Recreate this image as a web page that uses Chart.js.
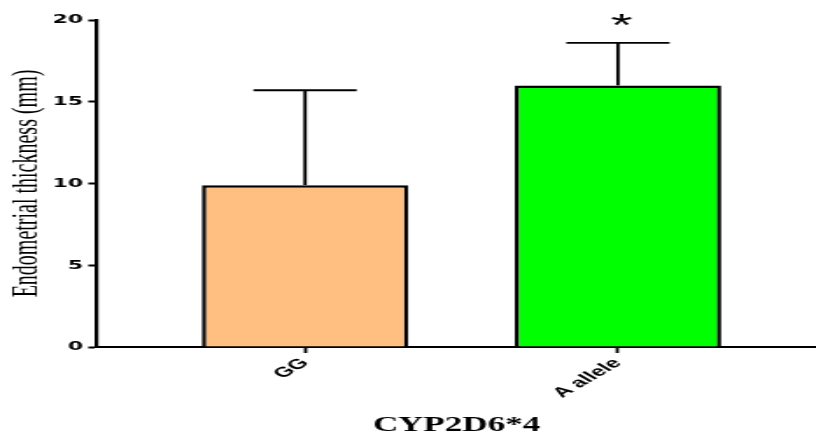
<!DOCTYPE html>
<html><head><meta charset="utf-8">
<script src="https://cdn.jsdelivr.net/npm/chart.js@4"></script>
<style>html,body{margin:0;padding:0;background:#fff;overflow:hidden}</style>
</head><body>
<canvas id="c" width="466" height="434" style="display:block;width:816px;height:434px"></canvas>
<script>
const categories = ['GG', 'A allele'];
const means = [9.9, 16.0];
const sds = [5.8, 2.6];
const significance = ['', '*'];
const barColors = ['#FFBF80', '#00FF00'];
const yTicks = [0, 5, 10, 15, 20];
const xTitle = 'CYP2D6*4';
const yTitle = 'Endometrial thickness (mm)';
const positions = categories.map((c, i) => i + 1);

const errorBars = {
  id: 'errorBars',
  afterDatasetsDraw(chart) {
    const ctx = chart.ctx;
    const ys = chart.scales.y;
    const meta = chart.getDatasetMeta(0);
    meta.data.forEach((bar, i) => {
      const p = bar.getProps(['x', 'y', 'width'], true);
      const top = ys.getPixelForValue(means[i] + sds[i]);
      const half = p.width / 4;
      ctx.save();
      ctx.strokeStyle = '#000';
      ctx.lineWidth = 1.9;
      ctx.beginPath(); ctx.moveTo(p.x, p.y); ctx.lineTo(p.x, top); ctx.stroke();
      ctx.beginPath(); ctx.moveTo(p.x - half, top); ctx.lineTo(p.x + half, top); ctx.stroke();
      if (significance[i]) {
        ctx.fillStyle = '#000';
        ctx.font = '32px "Liberation Sans"';
        ctx.textAlign = 'center';
        ctx.textBaseline = 'middle';
        ctx.fillText(significance[i], p.x + 2, top - 16);
      }
      ctx.restore();
    });
  }
};

const chart = new Chart(document.getElementById('c'), {
  type: 'bar',
  data: {
    datasets: [{
      data: positions.map((p, i) => ({ x: p, y: means[i] })),
      backgroundColor: barColors,
      borderColor: '#000',
      borderWidth: 2.5,
      categoryPercentage: 1,
      barPercentage: 0.66
    }]
  },
  options: {
    responsive: false,
    devicePixelRatio: 1,
    animation: false,
    layout: { padding: { top: 20, left: 0, right: 0, bottom: 0 } },
    plugins: { legend: { display: false }, tooltip: { enabled: false } },
    scales: {
      x: {
        type: 'linear',
        offset: false,
        min: 0.335,
        max: 2.633,
        afterBuildTicks: s => { s.ticks = positions.map(v => ({ value: v })); },
        afterFit: s => { s.height = 87; },
        ticks: {
          autoSkip: false, minRotation: 45, maxRotation: 45, color: '#000', padding: 2,
          font: { family: 'Liberation Sans', size: 14, weight: 'bold' },
          callback: v => { const k = positions.indexOf(v); return k >= 0 ? categories[k] : ''; }
        },
        grid: { display: true, offset: false, drawOnChartArea: false, drawTicks: true, tickLength: 6, tickWidth: 1.8, tickColor: '#000' },
        border: { display: true, color: '#000', width: 2 },
        title: {
          display: true, text: xTitle, color: '#000',
          font: { family: 'Liberation Serif', size: 20, weight: 'bold', lineHeight: 0.8 },
          padding: { top: 0, bottom: 0 }
        }
      },
      y: {
        min: 0,
        max: 20,
        afterBuildTicks: s => { s.ticks = yTicks.map(v => ({ value: v })); },
        afterFit: s => { s.width = 55.4; },
        ticks: { color: '#000', padding: 3, font: { family: 'DejaVu Sans', size: 12.5, weight: 'bold' } },
        grid: { display: true, offset: false, drawOnChartArea: false, drawTicks: true, tickLength: 5, tickWidth: 2, tickColor: '#000' },
        border: { display: true, color: '#000', width: 2.2 },
        title: {
          display: true, text: yTitle, color: '#000',
          font: { family: 'Liberation Serif', size: 20, lineHeight: 1.2 },
          padding: { top: 4, bottom: 0 }
        }
      }
    }
  },
  plugins: [errorBars]
});
</script>
</body></html>
